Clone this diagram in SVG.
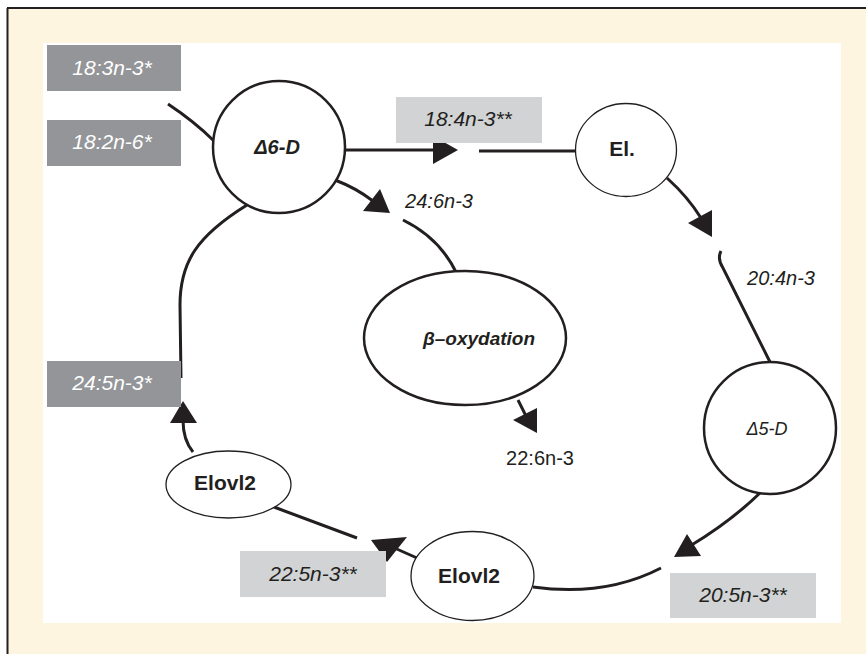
<svg xmlns="http://www.w3.org/2000/svg" width="866" height="654" viewBox="0 0 866 654">
<style>
.conn{fill:none;stroke:#231F20;stroke-width:3;stroke-linecap:butt}
.head{fill:#231F20;stroke:none}
.thick{fill:#fff;stroke:#231F20;stroke-width:2.5}
.thin{fill:#fff;stroke:#231F20;stroke-width:1.3}
.dark{fill:#939598}
.light{fill:#D1D3D4}
.t{font-family:"Liberation Sans",Arial,sans-serif;text-anchor:middle}
.it{font-style:italic;font-size:20px}
.bx{font-size:21px}
.w{fill:#fff}
.k{fill:#231F20}
.b{font-weight:bold}
</style>
<rect x="0" y="0" width="866" height="654" fill="#fff"/>
<rect x="7" y="8" width="859" height="646" fill="#FDF5DF"/>
<line x1="7" y1="8" x2="866" y2="8" stroke="#231F20" stroke-width="2"/>
<line x1="7.5" y1="8" x2="7.5" y2="654" stroke="#231F20" stroke-width="2"/>
<rect x="43" y="43" width="798" height="580" fill="#fff"/>

<g id="connectors">
<path class="conn" d="M168,104 Q195,122 214,141"/>
<path class="conn" d="M345,150 L435,150"/>
<polygon class="head" points="458,150 433,136 433,164"/>
<path class="conn" d="M479,151 L576,151"/>
<path class="conn" d="M667,178 Q688,197 701,218"/>
<polygon class="head" points="688,223 712,210 712,237"/>
<path class="conn" d="M721,251 Q717,259 723,268 L770,362"/>
<path class="conn" d="M760,493 Q730,522 690,546"/>
<polygon class="head" points="674,557 687,534 701,556"/>
<path class="conn" d="M533,587 Q605,597 661,568"/>
<path class="conn" d="M417,558 L390,546"/>
<polygon class="head" points="371,540 407,537 387,562"/>
<path class="conn" d="M274,507 L357,538"/>
<path class="conn" d="M193,452 Q183,440 183,420"/>
<polygon class="head" points="183,401 170,423 197,423"/>
<path class="conn" d="M247,205 C197,236 180,262 180,305 L181,378"/>
<path class="conn" d="M335,180 Q356,188 373,201"/>
<polygon class="head" points="363,211 380,189 390,213"/>
<path class="conn" d="M403,220 Q440,238 457,274"/>
<path class="conn" d="M518,400 L527,418"/>
<polygon class="head" points="513,420 537,408 537,433"/>
</g>

<g id="box-18-3">
<rect class="dark" x="47" y="45" width="134" height="46"/>
<text class="t it bx w" x="112" y="75">18:3n-3*</text>
</g>
<g id="box-18-2">
<rect class="dark" x="47" y="120" width="134" height="46"/>
<text class="t it bx w" x="112" y="149">18:2n-6*</text>
</g>
<g id="box-18-4">
<rect class="light" x="396" y="97" width="146" height="46"/>
<text class="t it bx k" x="468" y="126">18:4n-3**</text>
</g>
<g id="box-24-5">
<rect class="dark" x="47" y="361" width="134" height="46"/>
<text class="t it bx w" x="112" y="390">24:5n-3*</text>
</g>
<g id="box-22-5">
<rect class="light" x="240" y="551" width="146" height="46"/>
<text class="t it bx k" x="313" y="581">22:5n-3**</text>
</g>
<g id="box-20-5">
<rect class="light" x="670" y="573" width="146" height="45"/>
<text class="t it bx k" x="743" y="602">20:5n-3**</text>
</g>

<g id="d6d">
<circle class="thick" cx="279" cy="147" r="66"/>
<text class="t k b" x="277" y="154" font-size="20" font-style="italic">Δ6-D</text>
</g>
<g id="el">
<ellipse class="thin" cx="626" cy="150" rx="50.5" ry="46.5"/>
<text class="t k b" x="622" y="156" font-size="21">El.</text>
</g>
<g id="d5d">
<circle class="thick" cx="770" cy="428" r="66"/>
<text class="t k" x="767" y="435" font-size="18" font-style="italic">Δ5-D</text>
</g>
<g id="elovl2-bottom">
<ellipse class="thin" cx="472.5" cy="576" rx="61.5" ry="44.5"/>
<text class="t k b" x="469" y="583" font-size="21">Elovl2</text>
</g>
<g id="elovl2-left">
<ellipse class="thin" cx="228.5" cy="484.5" rx="62.5" ry="33.5"/>
<text class="t k b" x="225" y="490" font-size="21">Elovl2</text>
</g>
<g id="beta">
<ellipse class="thick" cx="465" cy="338" rx="101" ry="67"/>
<text class="t k b" x="479" y="345" font-size="19" font-style="italic">β–oxydation</text>
</g>

<g id="labels">
<text class="t it k" x="439" y="208">24:6n-3</text>
<text class="t it k" x="781" y="285">20:4n-3</text>
<text class="t k" x="540" y="465" font-size="20">22:6n-3</text>
</g>
</svg>
